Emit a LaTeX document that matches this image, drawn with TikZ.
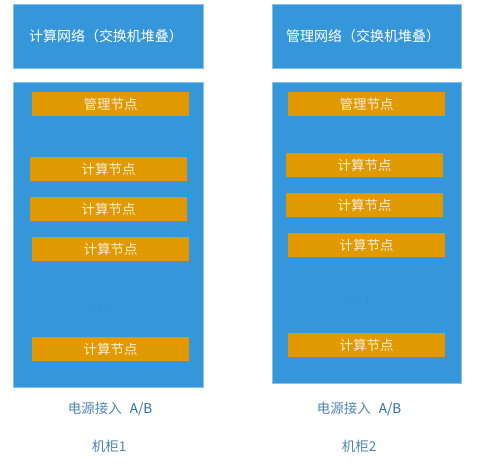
\documentclass[tikz,border=0pt]{standalone}
\usepackage{fontspec}
\newfontfamily\cjk{Noto Sans CJK SC}
\definecolor{rackblue}{HTML}{3597DA}
\definecolor{nodeorange}{HTML}{E09A00}
\definecolor{nodetext}{HTML}{F8EEDB}
\definecolor{labelblue}{HTML}{4F86B0}
\definecolor{abblue}{HTML}{2A6EA8}
\definecolor{dotblue}{HTML}{2B6A9A}
\tikzset{
  netbox/.style={fill=rackblue, draw=rackblue!60!white, line width=0.6pt, anchor=north west, inner sep=0pt, text=white, font=\cjk\fontsize{14}{16}\selectfont},
  rackbox/.style={fill=rackblue, draw=rackblue!60!white, line width=0.6pt, anchor=north west, inner sep=0pt},
  srv/.style={fill=nodeorange, draw=none, anchor=north west, inner sep=0pt, minimum width=157pt, minimum height=24pt, text=nodetext, font=\cjk\fontsize{13.5}{15}\selectfont},
  lbl/.style={text=labelblue, font=\cjk\fontsize{13.5}{15}\selectfont, inner sep=0pt},
  dots/.style={text=dotblue, font=\fontsize{10}{12}\selectfont, inner sep=0pt}
}
\begin{document}
\begin{tikzpicture}[x=1pt,y=-1pt]
\useasboundingbox (0,0) rectangle (501,471);
% Rack 1
\node[netbox, minimum width=190pt, minimum height=64pt] (net1) at (13,4) {};
\node[text=white, font=\cjk\fontsize{14}{16}\selectfont, inner sep=0pt] (net1t) at (106,36) {计算网络（交换机堆叠）};
\node[rackbox, minimum width=190pt, minimum height=305pt] (rack1) at (13,82) {};
\node[srv] (m1) at (32,92) {管理节点};
\node[srv] (c11) at (30,157) {计算节点};
\node[srv] (c12) at (30,197) {计算节点};
\node[srv] (c13) at (32,237) {计算节点};
\node[dots] (d1) at (100,307) {$\cdot\;\;\cdot\;\;\cdot$};
\node[srv] (c14) at (32,337) {计算节点};
\node[lbl] (p1) at (110,409) {电源接入\hspace{0.6em}{\color{abblue}A/B}};
\node[lbl] (k1) at (109,446) {机柜1};
% Rack 2
\node[netbox, minimum width=189pt, minimum height=64pt] (net2) at (272,4) {};
\node[text=white, font=\cjk\fontsize{14}{16}\selectfont, inner sep=0pt] (net2t) at (363,36) {管理网络（交换机堆叠）};
\node[rackbox, minimum width=189pt, minimum height=301pt] (rack2) at (272,82) {};
\node[srv] (m2) at (288,92) {管理节点};
\node[srv] (c21) at (286,153) {计算节点};
\node[srv] (c22) at (286,193) {计算节点};
\node[srv] (c23) at (288,233) {计算节点};
\node[dots] (d2) at (357,302) {$\cdot\;\;\cdot\;\;\cdot$};
\node[srv] (c24) at (288,333) {计算节点};
\node[lbl] (p2) at (359,409) {电源接入\hspace{0.6em}{\color{abblue}A/B}};
\node[lbl] (k2) at (359,446) {机柜2};
\end{tikzpicture}
\end{document}
